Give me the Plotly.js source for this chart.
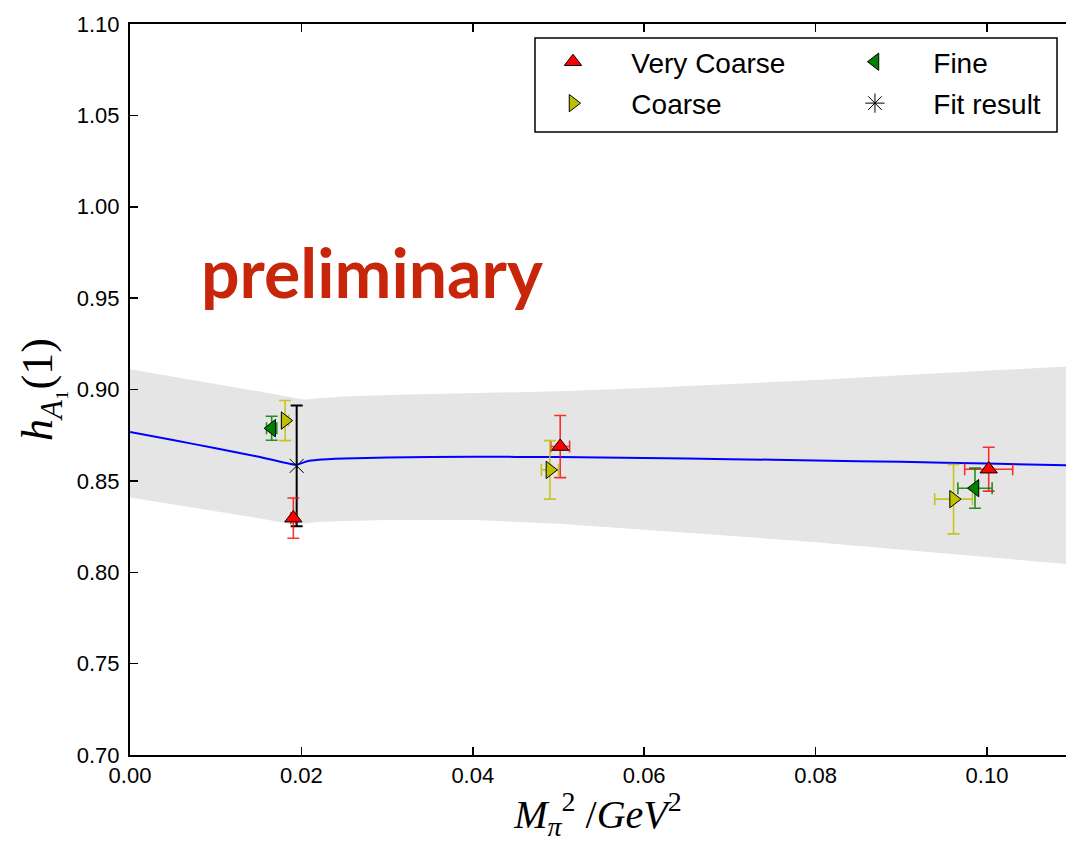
<!DOCTYPE html>
<html>
<head>
<meta charset="utf-8">
<script src="https://cdn.plot.ly/plotly-3.0.1.min.js"></script>
<style>html,body{margin:0;padding:0;background:#fff;}#chart{width:1066px;height:842px;}</style>
</head>
<body>
<div id="chart"></div>
<script>
// Fit curve and error band
const curveX     = [0, 0.005, 0.01, 0.015, 0.0194, 0.0205, 0.022, 0.025, 0.03, 0.04, 0.05, 0.06, 0.07, 0.08, 0.09, 0.1, 0.11];
const curveMid   = [0.8768, 0.8724, 0.8678, 0.8632, 0.8588, 0.8605, 0.8615, 0.8622, 0.8628, 0.8632, 0.8630, 0.8625, 0.8619, 0.8612, 0.8604, 0.8595, 0.8584];
const curveUpper = [0.9111, 0.9072, 0.9032, 0.8990, 0.8952, 0.8945, 0.8952, 0.8962, 0.8970, 0.8980, 0.8990, 0.9008, 0.9028, 0.9052, 0.9078, 0.9104, 0.9128];
const curveLower = [0.8409, 0.8372, 0.8335, 0.8296, 0.8259, 0.8268, 0.8275, 0.8281, 0.8286, 0.8286, 0.8266, 0.8234, 0.8200, 0.8164, 0.8124, 0.8084, 0.8042];

// Very Coarse
const vcX  = [0.01906, 0.0502, 0.1002];
const vcY  = [0.8296, 0.8688, 0.8564];
const vcEY = [0.011, 0.017, 0.012];
const vcEX = [0.0003, 0.0011, 0.0028];
// Coarse
const cX  = [0.0181, 0.0490, 0.0961];
const cY  = [0.883, 0.856, 0.840];
const cEY = [0.011, 0.016, 0.019];
const cEX = [0.0004, 0.0010, 0.0022];
// Fine
const fX  = [0.01653, 0.0986];
const fY  = [0.8788, 0.846];
const fEY = [0.0066, 0.011];
const fEX = [0.0006, 0.0020];
// Fit result
const fitX  = [0.01945];
const fitY  = [0.8582];
const fitEY = [0.033];

const seriesNames = ['Very Coarse', 'Coarse', 'Fine', 'Fit result'];
const yTicks = [0.70, 0.75, 0.80, 0.85, 0.90, 0.95, 1.00, 1.05, 1.10];
const xTicks = [0.00, 0.02, 0.04, 0.06, 0.08, 0.10];

const pad = '\u00a0\u00a0\u00a0';

function errTrace(name, x, y, ex, ey, color, barColor, symbol, legendId) {
  return {
    type: 'scatter', mode: 'markers', name: pad + name, x: x, y: y,
    legend: legendId, legendgroup: name,
    marker: {symbol: symbol, size: 15, color: color, line: {color: '#000', width: 1}},
    error_y: {type: 'data', array: ey, visible: true, color: barColor, thickness: 1.6, width: 6},
    error_x: {type: 'data', array: ex, visible: true, color: barColor, thickness: 1.6, width: 6}
  };
}

const traces = [
  {type: 'scatter', mode: 'lines', x: curveX, y: curveLower, line: {width: 0, color: 'rgba(0,0,0,0)'}, showlegend: false, hoverinfo: 'skip'},
  {type: 'scatter', mode: 'lines', x: curveX, y: curveUpper, line: {width: 0, color: 'rgba(0,0,0,0)'}, fill: 'tonexty', fillcolor: '#e5e5e5', showlegend: false, hoverinfo: 'skip'},
  {type: 'scatter', mode: 'lines', x: curveX, y: curveMid, line: {width: 2, color: '#0000ff', shape: 'spline', smoothing: 0.5}, showlegend: false},
  {
    type: 'scatter', mode: 'markers', name: 'fit', x: fitX, y: fitY,
    marker: {symbol: 'x-thin-open', size: 14, color: '#000', line: {color: '#000', width: 1}},
    error_y: {type: 'data', array: fitEY, visible: true, color: '#000', thickness: 2, width: 6},
    showlegend: false
  },
  errTrace(seriesNames[0], vcX, vcY, vcEX, vcEY, '#ff0000', 'rgba(255,0,0,0.8)', 'triangle-up', 'legend'),
  errTrace(seriesNames[1], cX, cY, cEX, cEY, '#bfbf00', 'rgba(191,191,0,0.85)', 'triangle-right', 'legend'),
  errTrace(seriesNames[2], fX, fY, fEX, fEY, '#008000', 'rgba(0,128,0,0.85)', 'triangle-left', 'legend2'),
  {
    type: 'scatter', mode: 'markers', name: pad + seriesNames[3], x: [null], y: [null],
    legend: 'legend2', legendgroup: seriesNames[3],
    marker: {symbol: 'asterisk-open', size: 16, color: '#000', line: {color: '#000', width: 1}}
  }
];

const legendCommon = {
  xanchor: 'left', yanchor: 'top', y: 0.9822,
  orientation: 'v', bgcolor: 'rgba(0,0,0,0)', borderwidth: 0,
  font: {size: 28, family: 'Liberation Sans, Arial, sans-serif', color: '#000'},
  itemwidth: 60, traceorder: 'grouped', tracegroupgap: 2
};

const layout = {
  width: 1066, height: 842,
  margin: {l: 130, r: 0, t: 24, b: 87},
  paper_bgcolor: '#fff', plot_bgcolor: '#fff',
  font: {family: 'Liberation Sans, Arial, sans-serif', color: '#000'},
  showlegend: true,
  xaxis: {
    range: [0, 0.10922], tickvals: xTicks, ticktext: xTicks.map(v => v.toFixed(2)),
    ticks: 'inside', ticklen: 8, tickwidth: 1.5, tickcolor: '#000',
    showline: true, linecolor: '#000', linewidth: 2, mirror: 'ticks',
    showgrid: false, zeroline: false,
    tickfont: {size: 22, family: 'Liberation Sans, Arial, sans-serif'},
    title: {text: '<i>M</i><sub><i>π</i></sub><sup>2</sup> /<i>GeV</i><sup>2</sup>', font: {size: 40, family: 'Liberation Serif, serif'}, standoff: 10}
  },
  yaxis: {
    range: [0.70, 1.10], tickvals: yTicks, ticktext: yTicks.map(v => v.toFixed(2)),
    ticks: 'inside', ticklen: 8, tickwidth: 1.5, tickcolor: '#000',
    showline: true, linecolor: '#000', linewidth: 2,
    showgrid: false, zeroline: false,
    tickfont: {size: 22, family: 'Liberation Sans, Arial, sans-serif'},
    ticklabelstandoff: 4,
    title: {text: '<i>h</i><sub><i>A</i>₁</sub>(1)', font: {size: 44, family: 'Liberation Serif, serif'}, standoff: 10}
  },
  legend: Object.assign({}, legendCommon, {x: 0.4359}),
  legend2: Object.assign({}, legendCommon, {x: 0.7585}),
  shapes: [{
    type: 'rect', xref: 'paper', yref: 'paper', layer: 'above',
    x0: 0.4327, x1: 0.9904, y0: 0.8523, y1: 0.9808,
    line: {color: '#000', width: 1.5}, fillcolor: '#fff'
  }],
  annotations: [{
    text: '<b>preliminary</b>', x: 0.02824, y: 0.9645, xref: 'x', yref: 'y',
    showarrow: false, xanchor: 'center', yanchor: 'middle',
    font: {family: 'Lato, sans-serif', size: 68, color: '#c8260a'}
  }]
};

Plotly.newPlot('chart', traces, layout, {displayModeBar: false, staticPlot: true});
</script>
</body>
</html>
